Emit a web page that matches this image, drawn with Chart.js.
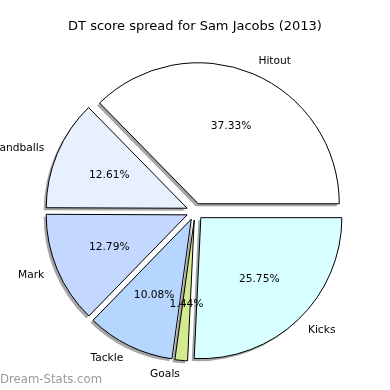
<!DOCTYPE html>
<html>
<head>
<meta charset="utf-8">
<script src="https://cdn.jsdelivr.net/npm/chart.js@4"></script>
<style>
  html, body { margin: 0; padding: 0; background: #ffffff; }
  #wrap { width: 390px; height: 390px; }
</style>
</head>
<body>
<div id="wrap"><canvas id="myChart" width="390" height="390"></canvas></div>
<script>
// values (percent of DT score), counter-clockwise from 3 o'clock
var categories = ["Hitout", "Handballs", "Mark", "Tackle", "Goals", "Kicks"];
var shares = [37.33, 12.61, 12.79, 10.08, 1.44, 25.75];
var sliceColors = ["#ffffff", "#e8f0ff", "#c4d8ff", "#b6d6ff", "#d2eb8e", "#d8ffff"];

// matplotlib goes counter-clockwise, Chart.js clockwise -> reverse
var labelsCW = categories.slice().reverse();
var valuesCW = shares.slice().reverse();
var colorsCW = sliceColors.slice().reverse();

var explodeFrac = 0.06;
var labelFont = "10.67px 'DejaVu Sans'";

// push each wedge out along its middle angle (like matplotlib explode)
var explodePlugin = {
    id: 'explode',
    afterDatasetUpdate: function(chart, args) {
        args.meta.data.forEach(function(arc) {
            var mid = (arc.startAngle + arc.endAngle) / 2;
            var d = arc.outerRadius * explodeFrac;
            arc.x += Math.cos(mid) * d;
            arc.y += Math.sin(mid) * d;
        });
    }
};

// gray drop shadow under each wedge
var shadowPlugin = {
    id: 'shadow',
    beforeDatasetsDraw: function(chart) {
        var ctx = chart.ctx;
        chart.getDatasetMeta(0).data.forEach(function(arc) {
            ctx.save();
            ctx.translate(-2.5, 2.5);
            ctx.beginPath();
            ctx.moveTo(arc.x, arc.y);
            ctx.arc(arc.x, arc.y, arc.outerRadius, arc.startAngle, arc.endAngle);
            ctx.closePath();
            ctx.fillStyle = 'rgba(77,77,77,0.5)';
            ctx.fill();
            ctx.restore();
        });
    }
};

// category names outside, percentages inside, watermark
var textPlugin = {
    id: 'pieText',
    afterDatasetsDraw: function(chart) {
        var ctx = chart.ctx;
        var meta = chart.getDatasetMeta(0);
        var total = valuesCW.reduce(function(a, b) { return a + b; }, 0);
        ctx.save();
        ctx.font = labelFont;
        ctx.fillStyle = '#000000';
        ctx.textBaseline = 'middle';
        meta.data.forEach(function(arc, i) {
            var mid = (arc.startAngle + arc.endAngle) / 2;
            var r = arc.outerRadius;
            var c = Math.cos(mid), s = Math.sin(mid);
            ctx.textAlign = c < 0 ? 'right' : 'left';
            ctx.fillText(labelsCW[i], arc.x + c * r * 1.1, arc.y + s * r * 1.1);
            ctx.textAlign = 'center';
            var pct = (valuesCW[i] / total * 100).toFixed(2) + '%';
            ctx.fillText(pct, arc.x + c * r * 0.6, arc.y + s * r * 0.6);
        });
        ctx.font = "13px 'DejaVu Sans Condensed', 'DejaVu Sans'";
        ctx.fillStyle = '#9a9a9a';
        ctx.textAlign = 'left';
        ctx.fillText('Dream-Stats.com', 0, chart.height - 10);
        ctx.restore();
    }
};

var ctx = document.getElementById('myChart').getContext('2d');
var chart = new Chart(ctx, {
    type: 'pie',
    data: {
        labels: labelsCW,
        datasets: [{
            data: valuesCW,
            backgroundColor: colorsCW,
            borderColor: '#000000',
            borderWidth: 1,
            offset: 0
        }]
    },
    options: {
        responsive: false,
        animation: false,
        rotation: 90,
        radius: 141,
        layout: { padding: { top: 0, bottom: 1.5, left: 0, right: 0 } },
        plugins: {
            legend: { display: false },
            tooltip: { enabled: false },
            title: {
                display: true,
                text: 'DT score spread for Sam Jacobs (2013)',
                color: '#000000',
                font: { family: "'DejaVu Sans'", size: 13, weight: 'normal' },
                padding: { top: 19, bottom: 0 }
            }
        }
    },
    plugins: [explodePlugin, shadowPlugin, textPlugin]
});
</script>
</body>
</html>
